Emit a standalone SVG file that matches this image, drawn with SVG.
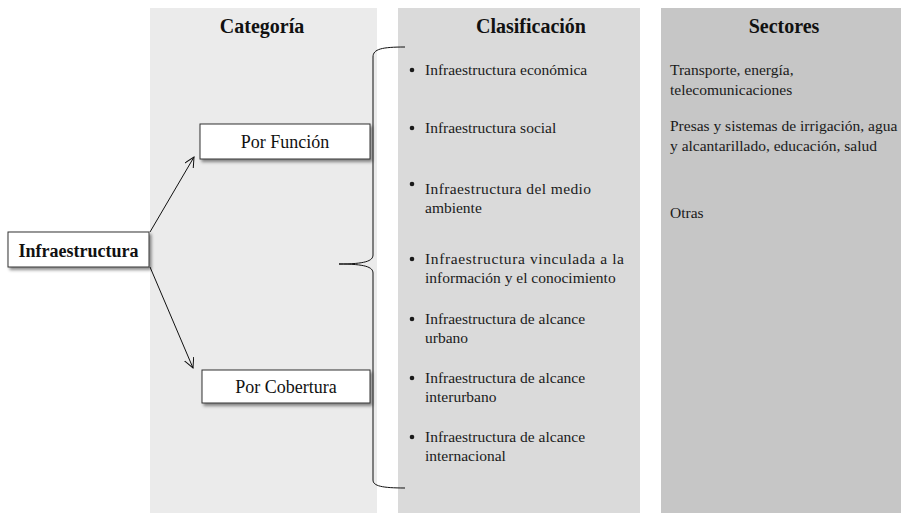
<svg xmlns="http://www.w3.org/2000/svg" width="901" height="515" viewBox="0 0 901 515">
<defs>
<style>
.title{font-family:"Liberation Serif","Times New Roman",serif;font-weight:bold;font-size:20px;fill:#111;text-anchor:middle}
.box{fill:#fff;stroke:#333;stroke-width:1;filter:url(#sh)}
.boxt{font-family:"Liberation Serif","Times New Roman",serif;font-size:18px;fill:#111;text-anchor:middle}
.body{font-family:"Liberation Serif","Times New Roman",serif;font-size:15.5px;fill:#1a1a1a}
.bul{fill:#1a1a1a}
.conn{fill:none;stroke:#111;stroke-width:1}
</style>
<filter id="sh" x="-10%" y="-20%" width="125%" height="160%">
<feDropShadow dx="2" dy="2.5" stdDeviation="1.5" flood-color="#000" flood-opacity="0.45"/>
</filter>
<marker id="arr" markerWidth="12" markerHeight="12" refX="10" refY="5" orient="auto" markerUnits="userSpaceOnUse">
<path d="M0,0 L10,5 L0,10" fill="none" stroke="#111" stroke-width="1"/>
</marker>
</defs>
<rect width="901" height="515" fill="#fff"/>
<g id="panel-categoria">
<rect x="150" y="8" width="227" height="505" fill="#ebebeb"/>
<text class="title" x="262" y="33">Categoría</text>
</g>
<g id="panel-clasificacion">
<rect x="398" y="8" width="242" height="505" fill="#dadada"/>
<text class="title" x="531" y="33">Clasificación</text>
<g class="bul">
<circle cx="412" cy="70" r="2.3"/>
<circle cx="412" cy="128" r="2.3"/>
<circle cx="412" cy="184" r="2.3"/>
<circle cx="412" cy="259" r="2.3"/>
<circle cx="412" cy="319" r="2.3"/>
<circle cx="412" cy="378" r="2.3"/>
<circle cx="412" cy="437" r="2.3"/>
</g>
<g class="body">
<text x="425" y="75">Infraestructura económica</text>
<text x="425" y="133">Infraestructura social</text>
<text x="425" y="194" textLength="166" lengthAdjust="spacing">Infraestructura del medio</text>
<text x="425" y="213">ambiente</text>
<text x="425" y="264" textLength="199" lengthAdjust="spacing">Infraestructura vinculada a la</text>
<text x="425" y="283">información y el conocimiento</text>
<text x="425" y="324">Infraestructura de alcance</text>
<text x="425" y="343">urbano</text>
<text x="425" y="383">Infraestructura de alcance</text>
<text x="425" y="402">interurbano</text>
<text x="425" y="442">Infraestructura de alcance</text>
<text x="425" y="461">internacional</text>
</g>
</g>
<g id="panel-sectores">
<rect x="661" y="8" width="240" height="505" fill="#c6c6c6"/>
<text class="title" x="784" y="33">Sectores</text>
<g class="body">
<text x="670" y="75">Transporte, energía,</text>
<text x="670" y="95">telecomunicaciones</text>
<text x="670" y="131">Presas y sistemas de irrigación, agua</text>
<text x="670" y="151">y alcantarillado, educación, salud</text>
<text x="670" y="218">Otras</text>
</g>
</g>
<g id="connectors">
<line class="conn" x1="150" y1="232" x2="194" y2="157" marker-end="url(#arr)"/>
<line class="conn" x1="150" y1="267" x2="193" y2="368" marker-end="url(#arr)"/>
<path class="conn" stroke-width="1.3" d="M405,47 C382,47 373,49 373,57 L373,255 C373,261 365,264 339,264 C365,264 373,267 373,273 L373,480 C373,486 382,488 405,488"/>
</g>
<g id="node-infraestructura">
<rect class="box" x="8" y="232" width="141" height="35"/>
<text class="boxt" x="78.5" y="257" font-weight="bold">Infraestructura</text>
</g>
<g id="node-por-funcion">
<rect class="box" x="200" y="124" width="170" height="35"/>
<text class="boxt" x="285" y="148">Por Función</text>
</g>
<g id="node-por-cobertura">
<rect class="box" x="202" y="370" width="168" height="33"/>
<text class="boxt" x="286" y="393">Por Cobertura</text>
</g>
</svg>
